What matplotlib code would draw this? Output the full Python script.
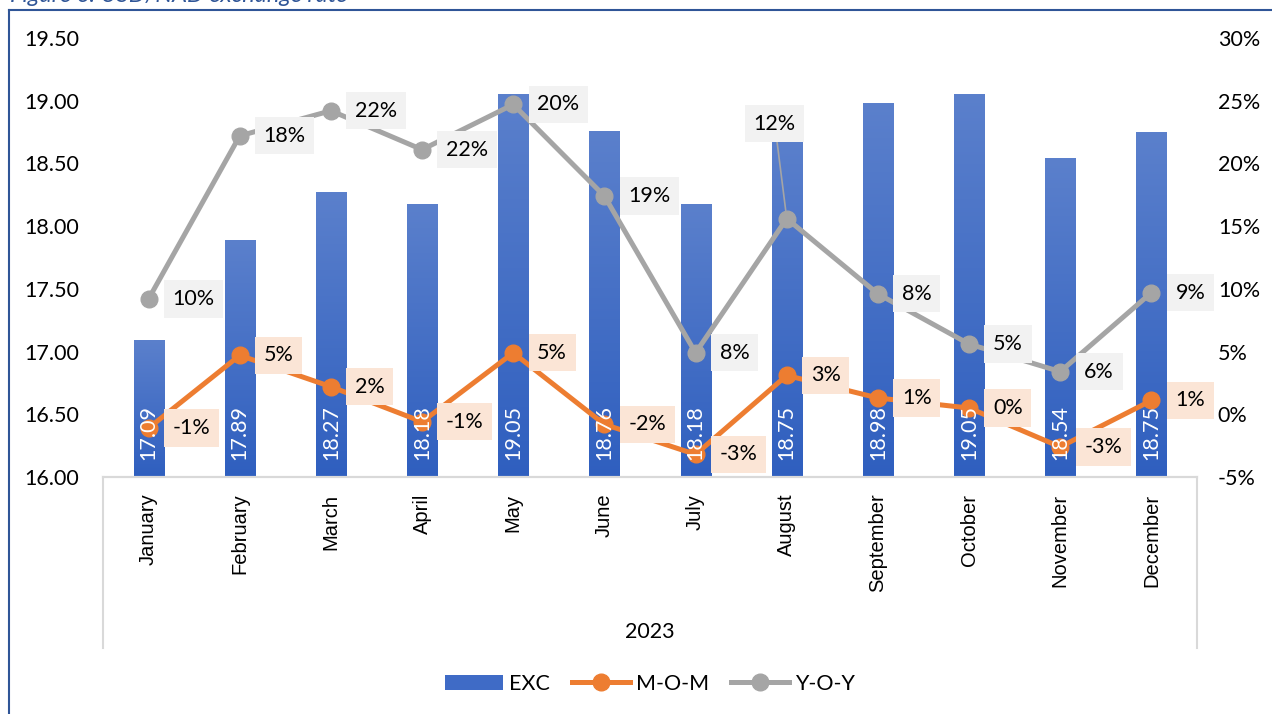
import numpy as np
import matplotlib
matplotlib.use('Agg')
import matplotlib.pyplot as plt
from matplotlib.lines import Line2D
from matplotlib.patches import Patch
from matplotlib.colors import LinearSegmentedColormap
from matplotlib.ticker import FuncFormatter

plt.rcParams['font.family'] = ['Lato', 'DejaVu Sans']

# data
months = ['January', 'February', 'March', 'April', 'May', 'June', 'July',
          'August', 'September', 'October', 'November', 'December']
exc = [17.09, 17.89, 18.27, 18.18, 19.05, 18.76, 18.18, 18.75, 18.98, 19.05, 18.54, 18.75]
mom = [-1.1, 4.7, 2.2, -0.6, 4.9, -0.8, -3.2, 3.1, 1.3, 0.5, -2.6, 1.1]
yoy = [9.2, 22.2, 24.2, 21.1, 24.7, 17.4, 4.9, 15.6, 9.6, 5.6, 3.4, 9.7]
mom_labels = ['-1%', '5%', '2%', '-1%', '5%', '-2%', '-3%', '3%', '1%', '0%', '-3%', '1%']
yoy_labels = ['10%', '18%', '22%', '22%', '20%', '19%', '8%', '12%', '8%', '5%', '6%', '9%']

BLUE_DARK = '#2f5fbf'
BLUE_LIGHT = '#5b80cc'
ORANGE = '#ed7d31'
GREY = '#a5a5a5'
AXIS_GREY = '#d9d9d9'
FS = 15.5
LW = 3.6


def gradient_bars(ax, bars):
    # excel-like vertical gradient inside each bar
    grad = np.linspace(0, 1, 256).reshape(-1, 1)
    cmap = LinearSegmentedColormap.from_list('exc', [BLUE_DARK, BLUE_LIGHT])
    for b in bars:
        x, y = b.get_xy()
        w, h = b.get_width(), b.get_height()
        im = ax.imshow(grad, extent=[x, x + w, y, y + h], origin='lower',
                       cmap=cmap, aspect='auto', zorder=b.get_zorder() + 0.1)
        im.set_clip_path(b)


fig = plt.figure(figsize=(12.72, 7.14), dpi=100)
W, H = 1272, 714
ax = fig.add_axes([103 / W, 1 - 477 / H, (1197 - 103) / W, (477 - 38) / H])
ax2 = ax.twinx()

x = np.arange(len(months))
bars = ax.bar(x, [v - 16.0 for v in exc], bottom=16.0, width=0.33,
              color=BLUE_DARK, zorder=2)
gradient_bars(ax, bars)

ax.set_xlim(-0.5, len(months) - 0.5)
ax.set_ylim(16.0, 19.5)
ax.set_yticks(np.arange(16.0, 19.51, 0.5))
ax.yaxis.set_major_formatter(FuncFormatter(lambda v, p: f'{v:.2f}'))
ax.set_xticks(x)
ax.set_xticklabels(months, rotation=90, family=['Liberation Sans', 'DejaVu Sans'],
                   fontsize=14.5)
ax.tick_params(axis='x', length=0, pad=12)
ax.tick_params(axis='y', length=0, pad=17, labelsize=FS)

ax2.plot(x, mom, color=ORANGE, lw=LW, marker='o', ms=12, zorder=3)
ax2.plot(x, yoy, color=GREY, lw=LW, marker='o', ms=12, zorder=3)
ax2.set_ylim(-5, 30)
ax2.set_yticks(np.arange(-5, 31, 5))
ax2.yaxis.set_major_formatter(FuncFormatter(lambda v, p: f'{v:.0f}%'))
ax2.tick_params(axis='y', length=0, pad=15, labelsize=FS)

for a in (ax, ax2):
    for s in ('top', 'left', 'right'):
        a.spines[s].set_visible(False)
    a.spines['bottom'].set_color(AXIS_GREY)
    a.spines['bottom'].set_linewidth(1.5)

# bar value labels at the base of each bar
for i, v in enumerate(exc):
    ax2.annotate(f'{v:.2f}', xy=(i, 16.0), xycoords=ax.transData,
                 xytext=(0, 17), textcoords='offset pixels', rotation=90,
                 ha='center', va='bottom', color='white', fontsize=FS, zorder=5)

# data labels for the lines
for i in range(len(months)):
    ax2.annotate(mom_labels[i], xy=(i, mom[i]), xytext=(24, 0),
                 textcoords='offset pixels', ha='left', va='center', fontsize=FS,
                 bbox=dict(boxstyle='square,pad=0.4', fc='#fbe5d6', ec='none'),
                 zorder=6)
    if months[i] == 'August':
        ax2.annotate(yoy_labels[i], xy=(i, yoy[i]), xytext=(-12, 95),
                     textcoords='offset pixels', ha='center', va='center', fontsize=FS,
                     bbox=dict(boxstyle='square,pad=0.4', fc='#f2f2f2', ec='none'),
                     arrowprops=dict(arrowstyle='-', color=GREY, lw=1.2,
                                     shrinkA=0, shrinkB=6),
                     zorder=6)
    else:
        ax2.annotate(yoy_labels[i], xy=(i, yoy[i]), xytext=(24, 0),
                     textcoords='offset pixels', ha='left', va='center', fontsize=FS,
                     bbox=dict(boxstyle='square,pad=0.4', fc='#f2f2f2', ec='none'),
                     zorder=6)

# multi-level category box
box_h = (648 - 477) / (477 - 38)
for xa in (0, 1):
    ax.add_line(Line2D([xa, xa], [0, -box_h], transform=ax.transAxes,
                       color=AXIS_GREY, lw=1.5, clip_on=False))
fig.text(650 / W, 1 - 632 / H, '2023', ha='center', va='center', fontsize=FS)

# legend
handles = [Patch(facecolor='#3f6bc6', edgecolor='none'),
           Line2D([], [], color=ORANGE, lw=LW, marker='o', ms=12),
           Line2D([], [], color=GREY, lw=LW, marker='o', ms=12)]
fig.legend(handles, ['EXC', 'M-O-M', 'Y-O-Y'], loc='center', ncol=3,
           bbox_to_anchor=(650 / W, 1 - 684 / H), frameon=False, fontsize=FS,
           handlelength=2.7, handletextpad=0.3, columnspacing=1.0, handleheight=0.7)

# figure frame and caption (clipped at the top edge as in the source)
fig.add_artist(Line2D([9 / W, 1], [1 - 10 / H, 1 - 10 / H], color='#2f5597', lw=1.5))
fig.add_artist(Line2D([9 / W, 9 / W], [0, 1 - 10 / H], color='#2f5597', lw=1.5))
fig.text(10 / W, 1 - 2 / H, 'Figure 6: USD/NAD exchange rate', ha='left', va='baseline',
         fontsize=17, style='italic', color='#2f5597')

fig.savefig('out.png', dpi=100)
